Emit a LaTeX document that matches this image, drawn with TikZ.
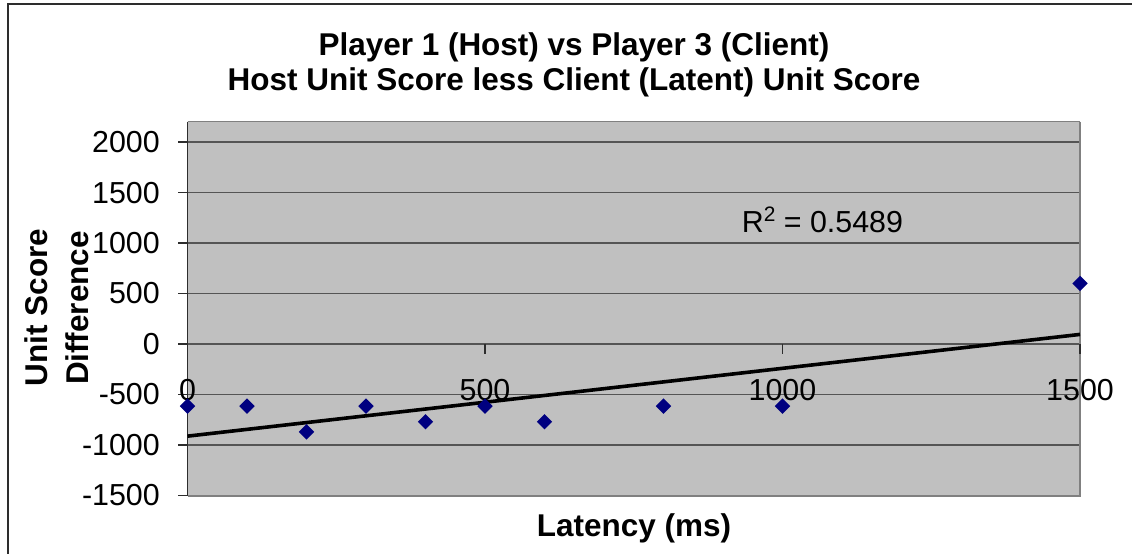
\documentclass[tikz,border=0pt]{standalone}
\usepackage{fontspec}
\setmainfont{Liberation Sans}
\usetikzlibrary{shapes.geometric}
\definecolor{plotbg}{RGB}{192,192,192}
\definecolor{gridc}{RGB}{85,85,85}
\definecolor{framec}{RGB}{128,128,128}
\definecolor{marknavy}{RGB}{0,0,128}
\definecolor{outerc}{RGB}{45,45,45}
\tikzset{
  ticklab/.style={font=\fontsize{30.5}{36}\selectfont, inner sep=0pt},
  titlelab/.style={font=\bfseries\fontsize{31.6}{36}\selectfont, inner sep=0pt},
  datamark/.style={diamond, fill=marknavy, draw=none, minimum width=15.5bp, minimum height=15.5bp, inner sep=0pt},
  gridline/.style={draw=gridc, line width=1.3bp},
  tickmark/.style={draw=outerc, line width=1.3bp},
}
\begin{document}
\begin{tikzpicture}[x=1bp,y=-1bp]
\useasboundingbox (0,0) rectangle (1132,554);
\begin{scope}
\clip (0,0) rectangle (1132,554);
% chart frame
\draw[outerc, line width=1.6bp] (8,4) rectangle (1145,570);
% plot area (x: 187.5 + 0.595*ms, y: 344 - 0.10097*score)
\fill[plotbg] (187.5,121.7) rectangle (1080,495.7);
\foreach \v in {2000,1500,1000,500,0,-500,-1000,-1500}{
  \draw[gridline] (187.5,{344-0.10097*\v}) -- (1080,{344-0.10097*\v});
  \draw[tickmark] (178,{344-0.10097*\v}) -- (187.5,{344-0.10097*\v});
}
\draw[framec, line width=1.3bp] (187.5,121.7) -- (1080,121.7);
\draw[framec, line width=2.2bp] (1080,121.7) -- (1080,495.7) -- (187.5,495.7);
\draw[outerc, line width=1.6bp] (187.5,121.7) -- (187.5,495.7);
% x ticks on the zero line
\foreach \m in {0,500,1000,1500}{
  \draw[tickmark] ({187.5+0.595*\m},344) -- ({187.5+0.595*\m},354);
}
\end{scope}
% axis numbers
\foreach \v/\n in {2000/y1,1500/y2,1000/y3,500/y4,0/y5,-500/y6,-1000/y7,-1500/y8}{
  \node[ticklab, anchor=east] (\n) at (160,{344-0.10097*\v}) {\v};
}
\foreach \m/\n in {0/x1,500/x2,1000/x3,1500/x4}{
  \node[ticklab, anchor=base] (\n) at ({187.5+0.595*\m},400) {\m};
}
% titles
\node[titlelab, anchor=base] (t1) at (574,56) {Player 1 (Host) vs Player 3 (Client)};
\node[titlelab, anchor=base] (t2) at (574,91) {Host Unit Score less Client (Latent) Unit Score};
\node[titlelab, anchor=base] (xl) at (634,536) {Latency (ms)};
\node[titlelab, anchor=base, rotate=90] (yl1) at (47,307.5) {Unit Score};
\node[titlelab, anchor=base, rotate=90] (yl2) at (88,308) {Difference};
\node[ticklab, anchor=base west] (r2) at (741.7,232.7)
  {R\raisebox{11bp}{\fontsize{21}{21}\selectfont 2} = 0.5489};
% trend line
\coordinate (ta) at (187.5,{344+0.10097*912.7});
\coordinate (tb) at (1080,{344-0.10097*94.9});
\draw[black, line width=3.6bp] (ta) -- (tb);
% data points
\foreach \m/\v/\n in {0/-615/p1,100/-615/p2,200/-870/p3,300/-615/p4,400/-770/p5,
                      500/-615/p6,600/-770/p7,800/-615/p8,1000/-615/p9,1500/600/p10}{
  \node[datamark] (\n) at ({187.5+0.595*\m},{344-0.10097*\v}) {};
}
\end{tikzpicture}
\end{document}
